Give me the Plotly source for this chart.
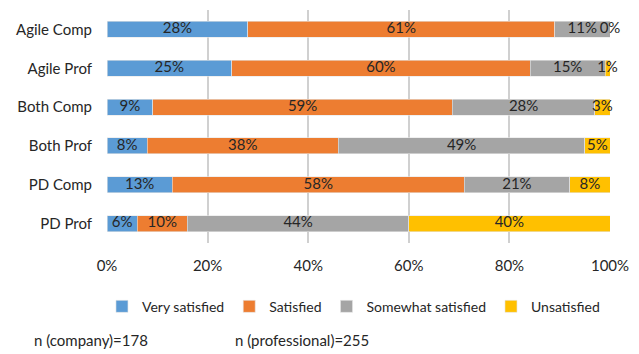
import plotly.graph_objects as go

groups = ["Agile Comp", "Agile Prof", "Both Comp", "Both Prof", "PD Comp", "PD Prof"]
very_satisfied = [28, 25, 9, 8, 13, 6]
satisfied = [61, 60, 59, 38, 58, 10]
somewhat_satisfied = [11, 15, 28, 49, 21, 44]
unsatisfied = [0, 1, 3, 5, 8, 40]
x_ticks = [0, 20, 40, 60, 80, 100]
x_tick_labels = ["0%", "20%", "40%", "60%", "80%", "100%"]

series = [
    ("Very satisfied", very_satisfied, "#5B9BD5"),
    ("Satisfied", satisfied, "#ED7D31"),
    ("Somewhat satisfied", somewhat_satisfied, "#A5A5A5"),
    ("Unsatisfied", unsatisfied, "#FFC000"),
]

FONT = "Lato"
TEXT_COLOR = "#262626"

fig = go.Figure()
for name, vals, color in series:
    fig.add_trace(go.Bar(
        name=name,
        y=groups,
        x=vals,
        orientation="h",
        marker=dict(color=color, line=dict(color="#E6E6E6", width=0.6)),
        hoverinfo="skip",
    ))

# Data labels centred on each segment of the 100% stacked bars
# (zero-width segments keep their label, sitting on the bar's end).
totals = [sum(s[1][i] for s in series) for i in range(len(groups))]
label_x, label_y, label_text = [], [], []
for i, g in enumerate(groups):
    start = 0
    for _, vals, _ in series:
        v = vals[i]
        label_x.append((start + v / 2) / totals[i] * 100)
        label_y.append(g)
        label_text.append(f"{v}%")
        start += v

fig.add_trace(go.Scatter(
    x=label_x, y=label_y, text=label_text,
    mode="text",
    textposition="middle center",
    textfont=dict(family=FONT, size=15, color=TEXT_COLOR),
    showlegend=False,
    cliponaxis=False,
    hoverinfo="skip",
))

fig.update_layout(
    barmode="stack",
    barnorm="percent",
    bargap=0.59,
    width=639,
    height=354,
    margin=dict(l=107, r=27, t=10, b=111),
    paper_bgcolor="white",
    plot_bgcolor="white",
    font=dict(family=FONT, size=15, color=TEXT_COLOR),
    showlegend=True,
    legend=dict(
        orientation="h",
        x=0.49, xanchor="center",
        y=-0.205, yanchor="top",
        font=dict(family=FONT, size=14, color=TEXT_COLOR),
        itemwidth=30,
        traceorder="normal",
    ),
    xaxis=dict(
        range=[0, 100],
        tickvals=x_ticks,
        ticktext=x_tick_labels,
        showgrid=True,
        gridcolor="#D0D0D0",
        gridwidth=1.5,
        zeroline=False,
        showline=False,
        ticks="",
        ticklabelstandoff=12,
        tickfont=dict(family=FONT, size=15, color=TEXT_COLOR),
        fixedrange=True,
    ),
    yaxis=dict(
        categoryorder="array",
        categoryarray=groups,
        autorange="reversed",
        showgrid=False,
        showline=False,
        zeroline=False,
        ticks="",
        ticklabelstandoff=14,
        tickfont=dict(family=FONT, size=15, color=TEXT_COLOR),
    ),
)

fig.add_annotation(text="n (company)=178", xref="paper", yref="paper",
                   x=-0.15, y=-0.416, xanchor="left", yanchor="middle",
                   showarrow=False, font=dict(family=FONT, size=15, color=TEXT_COLOR))
fig.add_annotation(text="n (professional)=255", xref="paper", yref="paper",
                   x=0.25, y=-0.416, xanchor="left", yanchor="middle",
                   showarrow=False, font=dict(family=FONT, size=15, color=TEXT_COLOR))

fig.write_html("out.html")
